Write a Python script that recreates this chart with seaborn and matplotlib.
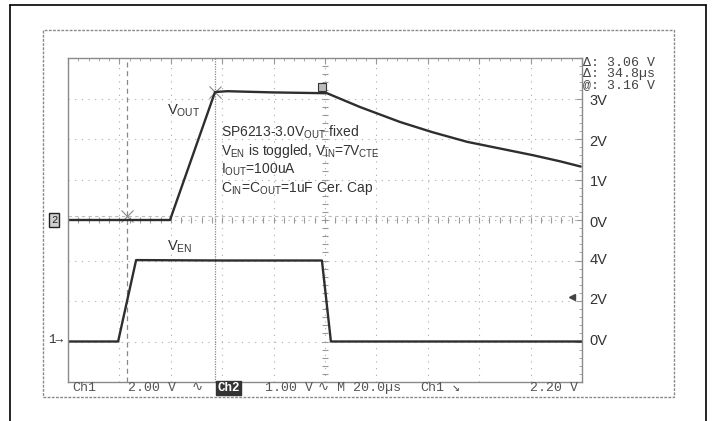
import numpy as np
import pandas as pd
import matplotlib
matplotlib.use("Agg")
import matplotlib.pyplot as plt
from matplotlib.ticker import MultipleLocator
from matplotlib.lines import Line2D
from matplotlib.patches import Rectangle
import seaborn as sns

# scope traces (time in us, volts)
t_out = [0, 39.7, 57.2, 62, 80, 100.8, 113.6, 129.2, 141.7, 155.3, 180.9, 191.4, 199.5]
v_out = [0.0, 0.0, 3.16, 3.18, 3.15, 3.13, 2.79, 2.42, 2.17, 1.93, 1.60, 1.45, 1.32]
t_en = [0, 19.5, 26.5, 60, 98.8, 102.3, 200]
v_en = [0.0, 0.0, 4.02, 4.0, 4.0, 0.0, 0.0]

# channel settings
out_volts_per_div = 1.0
en_volts_per_div = 2.0
out_offset_div = 4.0
en_offset_div = 1.0
out_labels = [3, 2, 1, 0]
en_labels = [4, 2, 0]
cursor_t = [23.0, 57.2]
cursor_v = [0.10, 3.16]
trigger_level = 2.20
readout = ["\u0394: 3.06 V", "\u0394: 34.8\u00b5s", "@: 3.16 V"]
notes = [r"SP6213-3.0V$_\mathregular{OUT}$ fixed",
         r"V$_\mathregular{EN}$ is toggled, V$_\mathregular{IN}$=7V$_\mathregular{CTE}$",
         r"I$_\mathregular{OUT}$=100uA",
         r"C$_\mathregular{IN}$=C$_\mathregular{OUT}$=1uF Cer. Cap"]

df_out = pd.DataFrame({"t": t_out, "div": np.array(v_out) / out_volts_per_div + out_offset_div})
df_en = pd.DataFrame({"t": t_en, "div": np.array(v_en) / en_volts_per_div + en_offset_div})

sns.set_style("white")
plt.rcParams["font.family"] = ["Liberation Sans", "DejaVu Sans"]
mono = ["Liberation Mono", "DejaVu Sans Mono", "DejaVu Sans"]

W, H = 712, 421
fig = plt.figure(figsize=(W / 100, H / 100), dpi=100)

def fx(px):
    return px / W

def fy(py):
    return 1 - py / H

# outer black border (top, left, right) and grey screenshot frame
fig.add_artist(Line2D([fx(10), fx(706)], [fy(5), fy(5)], color="black", lw=1.2))
fig.add_artist(Line2D([fx(10), fx(10)], [fy(5), fy(421)], color="black", lw=1.2))
fig.add_artist(Line2D([fx(706), fx(706)], [fy(5), fy(421)], color="black", lw=1.2))
fig.add_artist(Rectangle((fx(43), fy(397)), fx(674) - fx(43), fy(30) - fy(397),
                         fill=False, ec="#8a8a8a", lw=1.0, ls=(0, (2, 1))))

ax = fig.add_axes([fx(68), fy(382), fx(582) - fx(68), fy(58) - fy(382)])
ax.set_xlim(0, 200)
ax.set_ylim(0, 8)

# graticule
for x in np.arange(20, 200, 20):
    ax.axvline(x, color="#aaaaaa", lw=0.8, ls=(0, (1, 5)), zorder=0)
for y in np.arange(1, 8):
    ax.axhline(y, color="#aaaaaa", lw=0.8, ls=(0, (1, 5)), zorder=0)
ax.plot(np.full(41, 100.0), np.arange(0, 8.01, 0.2), ls="none", marker="_", ms=4, color="#999999", mew=0.8)
ax.plot(np.arange(0, 200.1, 4), np.full(51, 4.0), ls="none", marker="|", ms=4, color="#999999", mew=0.8)
ax.xaxis.set_major_locator(MultipleLocator(20))
ax.xaxis.set_minor_locator(MultipleLocator(4))
ax.yaxis.set_major_locator(MultipleLocator(1))
ax.yaxis.set_minor_locator(MultipleLocator(0.2))
ax.tick_params(which="both", direction="in", colors="#999999", top=True, right=True,
               labelbottom=False, labelleft=False)
ax.tick_params(which="major", length=4)
ax.tick_params(which="minor", length=2)
for s in ax.spines.values():
    s.set_color("#8a8a8a")
    s.set_linewidth(1.0)

# cursors
ax.axvline(cursor_t[0], color="#888888", lw=0.9, ls=(0, (4, 3)))
ax.axvline(cursor_t[1], color="#888888", lw=0.9, ls=(0, (1, 1)))
ax.axhline(cursor_v[0] + out_offset_div, color="#bbbbbb", lw=0.8, ls=(0, (3, 3)))
ax.plot(cursor_t, np.array(cursor_v) + out_offset_div, ls="none", marker="x", ms=9,
        color="#888888", mew=0.8)

# traces
sns.lineplot(data=df_out, x="t", y="div", ax=ax, color="#2e2e2e", lw=1.7, estimator=None)
sns.lineplot(data=df_en, x="t", y="div", ax=ax, color="#2e2e2e", lw=1.7, estimator=None)
ax.set_xlabel("")
ax.set_ylabel("")

# markers on screen
ax.plot([99], [7.28], marker="s", ms=6, mfc="#bbbbbb", mec="#333333", mew=0.8, clip_on=False)
ax.plot([196], [trigger_level / en_volts_per_div + en_offset_div], marker="<", ms=4,
        color="#444444")

# trace labels and notes
ax.text(38.5, 6.6, r"V$_\mathregular{OUT}$", fontsize=10.5, color="#333333", va="baseline")
ax.text(38.5, 3.26, r"V$_\mathregular{EN}$", fontsize=10.5, color="#333333", va="baseline")
for i, line in enumerate(notes):
    ax.text(59.5, 6.05 - i * 0.45, line, fontsize=10, color="#333333", va="baseline")

# right-hand scale labels
for v in out_labels:
    ax.text(1.015, (v / out_volts_per_div + out_offset_div - 0.07) / 8, f"{v}V",
            transform=ax.transAxes, fontsize=10.5, color="#333333", va="center")
for v in en_labels:
    ax.text(1.015, (v / en_volts_per_div + en_offset_div + 0.02) / 8, f"{v}V",
            transform=ax.transAxes, fontsize=10.5, color="#333333", va="center")

# cursor readout
for i, line in enumerate(readout):
    fig.text(fx(583), fy(63 + i * 11), line, fontsize=9.5, color="#444444",
             family=mono, va="center")

# channel markers on the left
fig.text(fx(54), fy(220), "2", fontsize=7.5, color="#222222", ha="center", va="center",
         family=mono, bbox=dict(boxstyle="square,pad=0.2", fc="#cfcfcf", ec="#222222", lw=1.0))
fig.text(fx(48), fy(340), "1\u2192", fontsize=9, color="#333333", va="center", family=mono)

# bottom status line
status = [(72, "Ch1"), (128, "2.00 V"), (192, "\u223f"), (265, "1.00 V"),
          (318, "\u223f M 20.0\u00b5s"), (420, "Ch1"), (452, "\u2198"), (530, "2.20 V")]
for x, s in status:
    fig.text(fx(x), fy(388), s, fontsize=9.5, color="#555555", family=mono, va="center")
fig.text(fx(217), fy(388), "Ch2", fontsize=9, color="white", family=mono, va="center",
         fontweight="bold", bbox=dict(boxstyle="square,pad=0.1", fc="#333333", ec="#333333"))

plt.savefig("out.png", dpi=100)
